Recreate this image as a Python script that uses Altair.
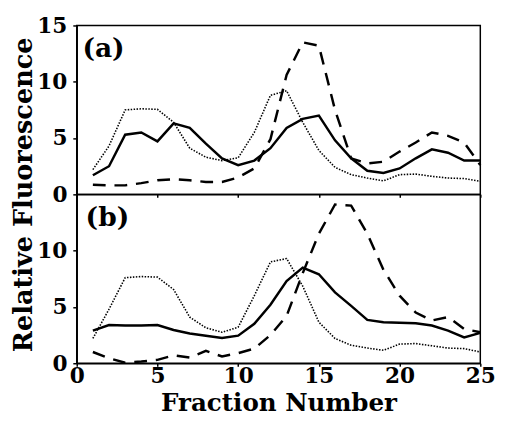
import altair as alt
import pandas as pd

fractions = list(range(1, 26))

# panel (a)
a_solid = [1.7, 2.5, 5.3, 5.5, 4.7, 6.3, 5.9, 4.5, 3.2, 2.6, 3.0, 4.1, 5.9, 6.7, 7.0,
           4.8, 3.2, 2.1, 1.9, 2.3, 3.2, 4.0, 3.7, 3.0, 3.0]
a_dashed = [0.85, 0.8, 0.8, 1.0, 1.25, 1.35, 1.25, 1.1, 1.1, 1.5, 2.3, 4.9, 10.6, 13.5, 13.2,
            7.5, 3.2, 2.75, 2.9, 3.8, 4.6, 5.5, 5.2, 4.6, 2.6]
a_dotted = [2.2, 4.3, 7.5, 7.6, 7.55, 6.4, 4.1, 3.3, 3.0, 3.25, 5.5, 8.8, 9.2, 6.4, 3.9,
            2.4, 1.75, 1.45, 1.2, 1.75, 1.8, 1.6, 1.45, 1.4, 1.15]

# panel (b)
b_solid = [2.9, 3.4, 3.35, 3.35, 3.4, 2.95, 2.65, 2.45, 2.25, 2.45, 3.5, 5.2, 7.3, 8.5, 7.9,
           6.3, 5.1, 3.85, 3.65, 3.6, 3.55, 3.35, 2.9, 2.3, 2.7]
b_dashed = [1.0, 0.45, 0.05, 0.15, 0.3, 0.7, 0.5, 1.1, 0.6, 0.9, 1.3, 2.5, 4.2, 8.0, 11.5,
            14.1, 14.0, 11.5, 8.3, 6.0, 4.5, 3.8, 4.1, 3.05, 2.75]
b_dotted = [2.2, 4.8, 7.6, 7.7, 7.65, 6.55, 4.1, 3.15, 2.75, 3.2, 6.0, 9.0, 9.3, 6.85, 3.65,
            2.2, 1.6, 1.35, 1.15, 1.7, 1.75, 1.55, 1.35, 1.3, 1.0]

panel_labels = ["(a)", "(b)"]
label_x = [0.35, 0.55]
label_y = [12.9, 12.9]

x_ticks = [0, 5, 10, 15, 20, 25]
y_ticks_a = [0, 5, 10, 15]
y_ticks_b = [0, 5, 10]

FONT = "DejaVu Serif"
W, H = 411, 172

styles = {
    "solid": dict(strokeWidth=2.5),
    "dashed": dict(strokeWidth=2.5, strokeDash=[13, 9]),
    "dotted": dict(strokeWidth=1.6, strokeDash=[1.5, 1.5]),
}


def panel(solid, dashed, dotted, label, lx, ly, top):
    xscale = alt.Scale(domain=[0, 25], nice=False)
    yscale = alt.Scale(domain=[0, 15], nice=False)
    if top:
        xaxis = alt.Axis(values=x_ticks, labels=False, title="", tickSize=3)
        yaxis = alt.Axis(values=y_ticks_a, title="Relative Fluorescence", titleY=H,
                         titleFont=FONT, titleFontSize=26, titleFontWeight="bold",
                         titlePadding=0, titleColor="black")
    else:
        xaxis = alt.Axis(values=x_ticks, title="Fraction Number", tickSize=3,
                         labelPadding=0, labelFlush=False, titleFont=FONT,
                         titleFontSize=25, titleFontWeight="bold", titlePadding=4,
                         titleColor="black")
        yaxis = alt.Axis(values=y_ticks_b, title="")
    layers = []
    for name, vals in (("solid", solid), ("dashed", dashed), ("dotted", dotted)):
        df = pd.DataFrame({"x": fractions, "y": vals})
        layers.append(
            alt.Chart(df).mark_line(color="black", **styles[name]).encode(
                x=alt.X("x:Q", scale=xscale, axis=xaxis),
                y=alt.Y("y:Q", scale=yscale, axis=yaxis),
            )
        )
    ldf = pd.DataFrame({"x": [lx], "y": [ly], "t": [label]})
    layers.append(
        alt.Chart(ldf).mark_text(font=FONT, fontSize=27, fontWeight="bold", align="left",
                                 baseline="middle", color="black").encode(
            x=alt.X("x:Q", scale=xscale, axis=xaxis),
            y=alt.Y("y:Q", scale=yscale, axis=yaxis),
            text="t:N",
        )
    )
    return alt.layer(*layers).properties(width=W, height=H)


top = panel(a_solid, a_dashed, a_dotted, panel_labels[0], label_x[0], label_y[0], True)
bottom = panel(b_solid, b_dashed, b_dotted, panel_labels[1], label_x[1], label_y[1], False)

chart = alt.vconcat(top, bottom, spacing=0, bounds="flush").properties(
    padding={"left": 2, "top": 2, "right": 0, "bottom": 0}
).configure_view(
    stroke="black", strokeWidth=1.5
).configure_axis(
    grid=False,
    domainColor="black",
    domainWidth=1.5,
    tickColor="black",
    tickWidth=1.5,
    tickSize=4,
    labelFont=FONT,
    labelFontSize=22,
    labelFontWeight="bold",
    labelColor="black",
    labelPadding=6,
    labelFlush=False,
    labelOverlap=False,
)

chart.save("out.html", embed_options={"renderer": "svg", "actions": False})
